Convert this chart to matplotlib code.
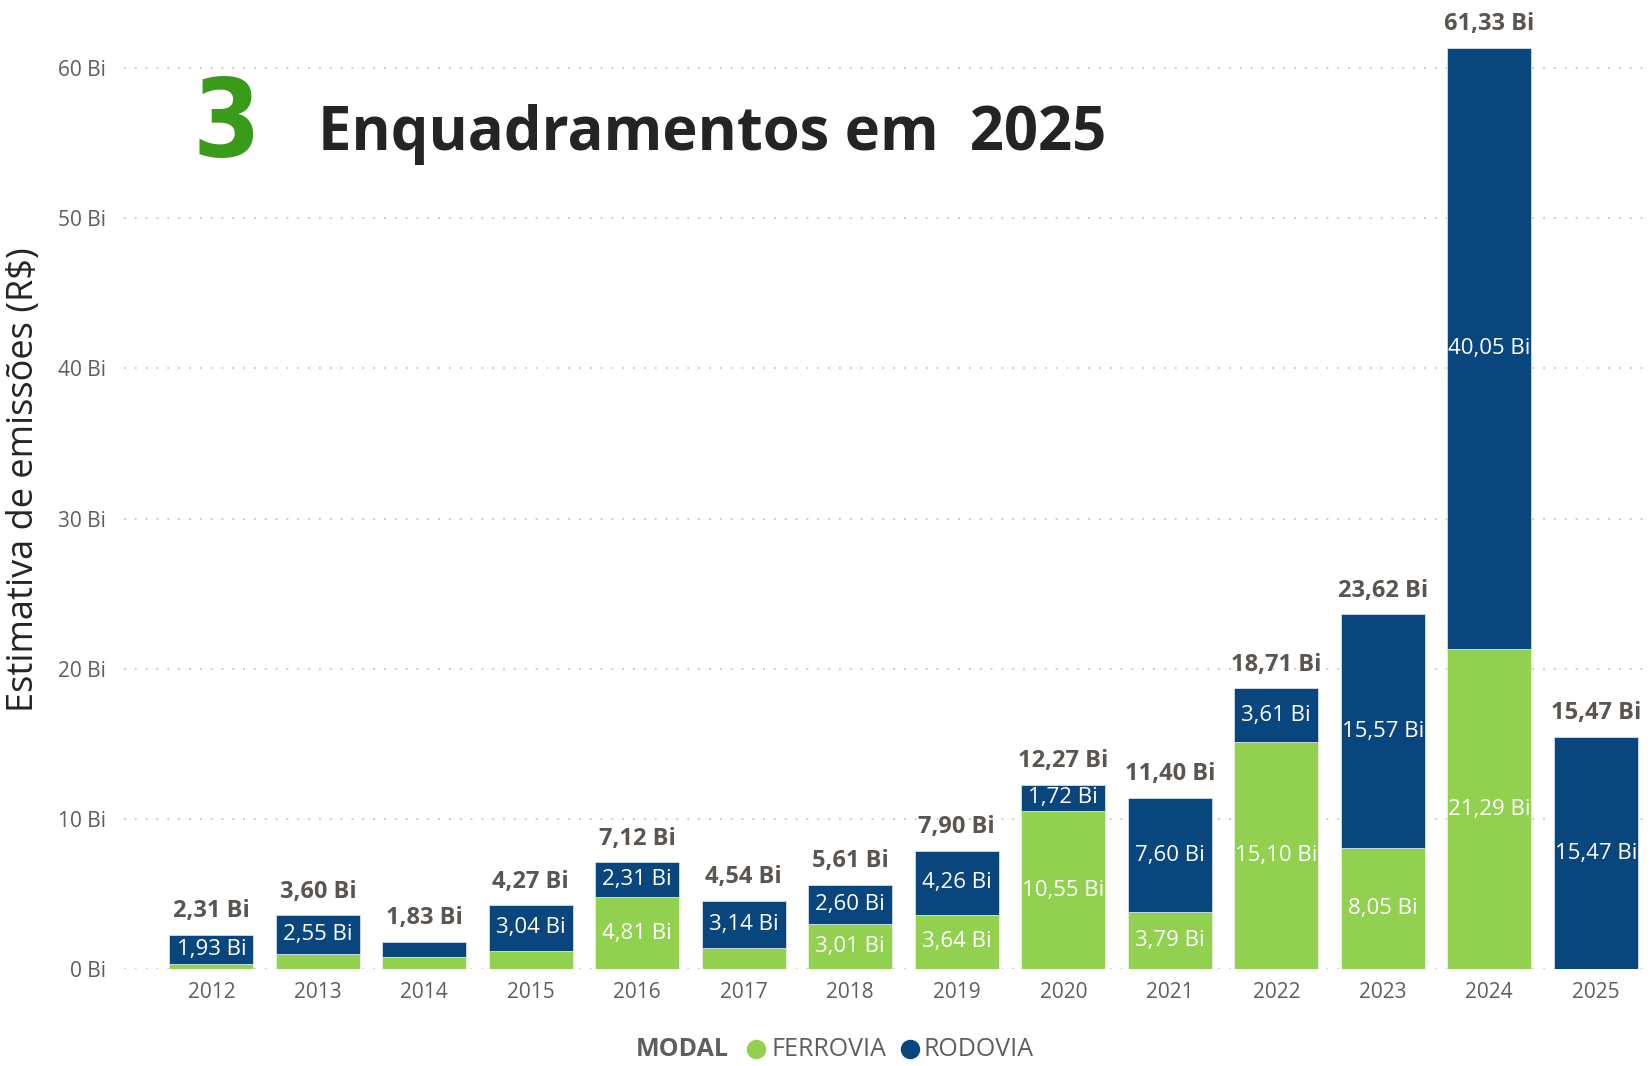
import numpy as np
import matplotlib.pyplot as plt
from matplotlib.lines import Line2D

# data (R$ bilhoes)
anos = ['2012', '2013', '2014', '2015', '2016', '2017', '2018',
        '2019', '2020', '2021', '2022', '2023', '2024', '2025']
ferrovia = [0.38, 1.05, 0.80, 1.23, 4.81, 1.40, 3.01,
            3.64, 10.55, 3.79, 15.10, 8.05, 21.29, 0.00]
rodovia = [1.93, 2.55, 1.03, 3.04, 2.31, 3.14, 2.60,
           4.26, 1.72, 7.60, 3.61, 15.57, 40.05, 15.47]
totais = [2.31, 3.60, 1.83, 4.27, 7.12, 4.54, 5.61,
          7.90, 12.27, 11.40, 18.71, 23.62, 61.33, 15.47]
yticks = [0, 10, 20, 30, 40, 50, 60]

verde = '#92D050'
azul = '#0A467E'
cinza = '#605E5C'
escuro = '#252423'

plt.rcParams['font.family'] = ['Open Sans', 'DejaVu Sans']


def fmt(v):
    return f'{v:.2f}'.replace('.', ',') + ' Bi'


fig = plt.figure(figsize=(16.51, 10.66), dpi=100)
ax = fig.add_axes([0.0751, 0.0907, 0.9237, 0.888])

x = np.arange(len(anos))
w = 0.79
ax.bar(x, ferrovia, w, color=verde, edgecolor='#E8F3DC', linewidth=0.6, zorder=3)
ax.bar(x, rodovia, w, bottom=ferrovia, color=azul, edgecolor='#D5DEE8', linewidth=0.6, zorder=3)

# rotulos dentro dos segmentos e totais
for i in range(len(anos)):
    if ferrovia[i] >= 1.5:
        ax.text(x[i], ferrovia[i] / 2, fmt(ferrovia[i]), ha='center', va='center',
                color='white', fontsize=16, zorder=4)
    if rodovia[i] >= 1.5:
        ax.text(x[i], ferrovia[i] + rodovia[i] / 2, fmt(rodovia[i]), ha='center', va='center',
                color='white', fontsize=16, zorder=4)
    ax.annotate(fmt(totais[i]), (x[i], totais[i]), xytext=(0, 17), textcoords='offset points',
                ha='center', va='center', color='#5A5550', fontsize=17, fontweight='bold',
                zorder=4, annotation_clip=False)

ax.set_xlim(-0.82, 13.5)
ax.set_ylim(0, 63)
ax.set_yticks(yticks)
ax.set_yticklabels([f'{t} Bi' for t in yticks])
ax.set_xticks(x)
ax.set_xticklabels(anos)
ax.tick_params(axis='y', length=0, pad=13, labelsize=15, labelcolor=cinza)
ax.tick_params(axis='x', length=0, pad=9, labelsize=15, labelcolor=cinza)
for s in ax.spines.values():
    s.set_visible(False)
ax.grid(axis='y', color='#C8C6C4', linestyle=(0, (1, 5)), linewidth=1.3, zorder=0)

# titulo do eixo y
fig.text(0.0148, 0.55, 'Estimativa de emissões (R$)', rotation=90, ha='center', va='center',
         fontsize=26, color=escuro)

# titulo
fig.text(0.137, 0.8537, '3', ha='center', va='baseline', fontsize=78, color='#3A9A1A',
         family='DejaVu Sans', fontstretch='condensed', fontweight='bold')
fig.text(0.1926, 0.859, 'Enquadramentos em  2025', ha='left', va='baseline', fontsize=43,
         fontweight='bold', color=escuro)

# legenda
ly = 0.0155
fig.text(0.4134, ly, 'MODAL', ha='center', va='center', fontsize=18, fontweight='bold', color=cinza)
fig.add_artist(Line2D([0.4579], [ly], marker='o', markersize=13, color=verde, transform=fig.transFigure))
fig.text(0.4672, ly, 'FERROVIA', ha='left', va='center', fontsize=18, color=cinza)
fig.add_artist(Line2D([0.5512], [ly], marker='o', markersize=13, color=azul, transform=fig.transFigure))
fig.text(0.5594, ly, 'RODOVIA', ha='left', va='center', fontsize=18, color=cinza)

fig.savefig('out.png', dpi=100)
